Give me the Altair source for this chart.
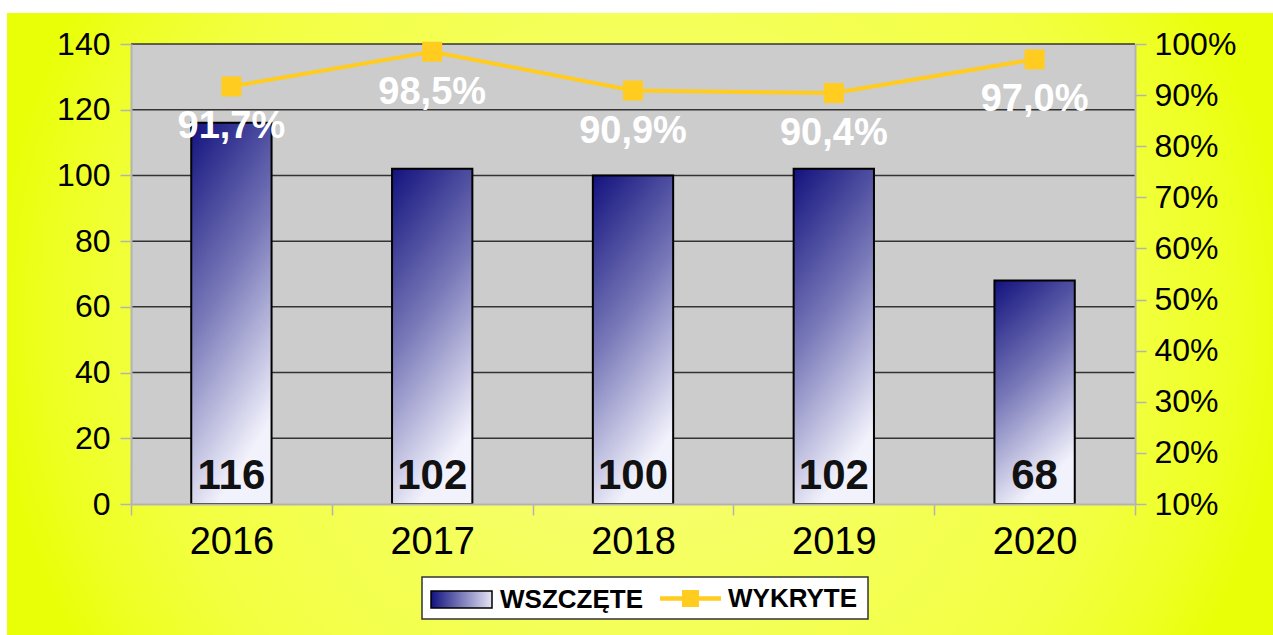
import altair as alt
import pandas as pd

# ---- data ----
years = ["2016", "2017", "2018", "2019", "2020"]
wszczete = [116, 102, 100, 102, 68]
wykryte = [91.7, 98.5, 90.9, 90.4, 97.0]
wykryte_labels = ["91,7%", "98,5%", "90,9%", "90,4%", "97,0%"]
left_ticks = [0, 20, 40, 60, 80, 100, 120, 140]
right_ticks = [10, 20, 30, 40, 50, 60, 70, 80, 90, 100]
series_bar = "WSZCZĘTE"
series_line = "WYKRYTE"

FONT = "Liberation Sans"
NAVY = "#12127e"
LIGHT = "#f2f2fc"
GOLD = "#ffcc1f"
AXIS_GRAY = "#b3b3b3"

bars_df = pd.DataFrame({"rok": years, "wszczete": wszczete, "seria": [series_bar] * len(years)})
line_df = pd.DataFrame({"rok": years, "wykryte": wykryte, "label": wykryte_labels,
                        "seria": [series_line] * len(years)})
grid_df = pd.DataFrame({"g": left_ticks[1:]})
one_df = pd.DataFrame({"k": [0]})

bar_gradient = {"gradient": "linear", "x1": 0, "y1": 0, "x2": 0.33, "y2": 1,
                "stops": [{"offset": 0, "color": NAVY},
                          {"offset": 0.5, "color": "#7777b8"},
                          {"offset": 1, "color": LIGHT}]}
legend_gradient = {"gradient": "linear", "x1": 0, "y1": 0, "x2": 1, "y2": 0,
                   "stops": [{"offset": 0, "color": NAVY},
                             {"offset": 1, "color": "#e4e4f4"}]}
bg_gradient = {"gradient": "radial", "x1": 0.5, "y1": 0.5, "r1": 0,
               "x2": 0.5, "y2": 0.5, "r2": 0.71,
               "stops": [{"offset": 0, "color": "#f8ff80"},
                         {"offset": 0.55, "color": "#f2ff40"},
                         {"offset": 0.65, "color": "#eeff24"},
                         {"offset": 0.72, "color": "#e9ff08"},
                         {"offset": 1, "color": "#e6ff00"}]}

x_enc = alt.X("rok:N", sort=years,
              scale=alt.Scale(paddingInner=0, paddingOuter=0),
              axis=alt.Axis(title=None, labelFontSize=38, labelFont=FONT, labelColor="black",
                            labelAngle=0, labelPadding=8, tickBand="extent", tickSize=11,
                            tickColor=AXIS_GRAY, tickWidth=1.5, domainColor=AXIS_GRAY,
                            domainWidth=2, grid=False, zindex=1))
left_scale = alt.Scale(domain=[0, 140], nice=False, zero=True)
right_scale = alt.Scale(domain=[10, 100], nice=False, zero=False)

left_axis = alt.Axis(orient="left", title=None, values=left_ticks, labelFontSize=32,
                     labelFont=FONT, labelColor="black", tickSize=11, tickColor=AXIS_GRAY,
                     tickWidth=1.5, domainColor=AXIS_GRAY, domainWidth=2, labelPadding=10,
                     grid=False, zindex=1)
right_axis = alt.Axis(orient="right", title=None, values=right_ticks, labelFontSize=32,
                      labelFont=FONT, labelColor="black", tickSize=11, tickColor=AXIS_GRAY,
                      tickWidth=1.5, domainColor=AXIS_GRAY, domainWidth=2, labelPadding=8,
                      grid=False, labelExpr="datum.value + '%'", zindex=1)

legend_common = dict(title=None, orient="none", direction="horizontal", padding=0,
                     labelFont=FONT, labelFontSize=26, labelFontWeight="bold",
                     labelColor="black", labelOffset=7, symbolSize=3721)

# decorative background (yellow frame), grey plot area and legend box
bg = alt.Chart(one_df).mark_rect(fill=bg_gradient).encode(
    x=alt.value(-124), x2=alt.value(1142), y=alt.value(-31), y2=alt.value(591))
plot_bg = alt.Chart(one_df).mark_rect(fill="#cccccc").encode(
    x=alt.value(0), x2=alt.value("width"), y=alt.value(0), y2=alt.value("height"))
legend_box = alt.Chart(one_df).mark_rect(fill="white", stroke="#333333", strokeWidth=1.5).encode(
    x=alt.value(291), x2=alt.value(737), y=alt.value(533), y2=alt.value(575))

# horizontal grid lines (drawn behind the bars)
grid = alt.Chart(grid_df).mark_rule(color="#333333", strokeWidth=1.5).encode(
    y=alt.Y("g:Q", scale=left_scale, axis=left_axis),
    x=alt.value(0), x2=alt.value("width"))

bars = alt.Chart(bars_df).mark_bar(fill=bar_gradient, stroke="black", strokeWidth=2,
                                   width=alt.RelativeBandSize(0.4)).encode(
    x=x_enc, y=alt.Y("wszczete:Q", scale=left_scale, axis=left_axis))

# empty layer that only carries the legend entry of the bars
bar_legend = alt.Chart(bars_df).transform_filter("false").mark_bar(
    fill=legend_gradient, stroke="black", strokeWidth=1.5).encode(
    x=x_enc, y=alt.Y("wszczete:Q", scale=left_scale, axis=left_axis),
    opacity=alt.Opacity("seria:O", scale=alt.Scale(domain=[series_bar], range=[1]),
                        legend=alt.Legend(legendX=299, legendY=524,
                                          symbolType="M-1,-0.28H1V0.28H-1Z",
                                          **legend_common)))

bar_labels = alt.Chart(bars_df).transform_calculate(zero="0").mark_text(
    font=FONT, fontSize=42, fontWeight="bold", color="#111111",
    baseline="alphabetic", dy=-15).encode(
    x=x_enc, y=alt.Y("zero:Q", scale=left_scale, axis=left_axis), text="wszczete:Q")

line = alt.Chart(line_df).mark_line(strokeWidth=4, color=GOLD).encode(
    x=x_enc, y=alt.Y("wykryte:Q", scale=right_scale, axis=right_axis))
points = alt.Chart(line_df).mark_point(shape="square", filled=True, size=400, opacity=1).encode(
    x=x_enc, y=alt.Y("wykryte:Q", scale=right_scale, axis=right_axis),
    color=alt.Color("seria:N", scale=alt.Scale(domain=[series_line], range=[GOLD]),
                    legend=alt.Legend(legendX=529, legendY=524, symbolStrokeWidth=0,
                                      symbolType="M-1,-0.07H1V0.07H-1Z M-0.28,-0.28H0.28V0.28H-0.28Z",
                                      **legend_common)))
pct = alt.Chart(line_df).mark_text(font=FONT, fontSize=38, fontWeight="bold", color="white",
                                   baseline="alphabetic", dy=52).encode(
    x=x_enc, y=alt.Y("wykryte:Q", scale=right_scale, axis=right_axis), text="label:N")

left = alt.layer(grid, bars, bar_legend, bar_labels)
right = alt.layer(line, points, pct)

chart = alt.layer(bg, plot_bg, legend_box, left, right).resolve_scale(y="independent").properties(
    width=1004, height=460,
    padding={"left": 131, "top": 44, "right": 138, "bottom": 131},
    autosize="none", background="white"
).configure_view(stroke=None)

chart.save("out.html", embed_options={"renderer": "svg", "actions": False})
